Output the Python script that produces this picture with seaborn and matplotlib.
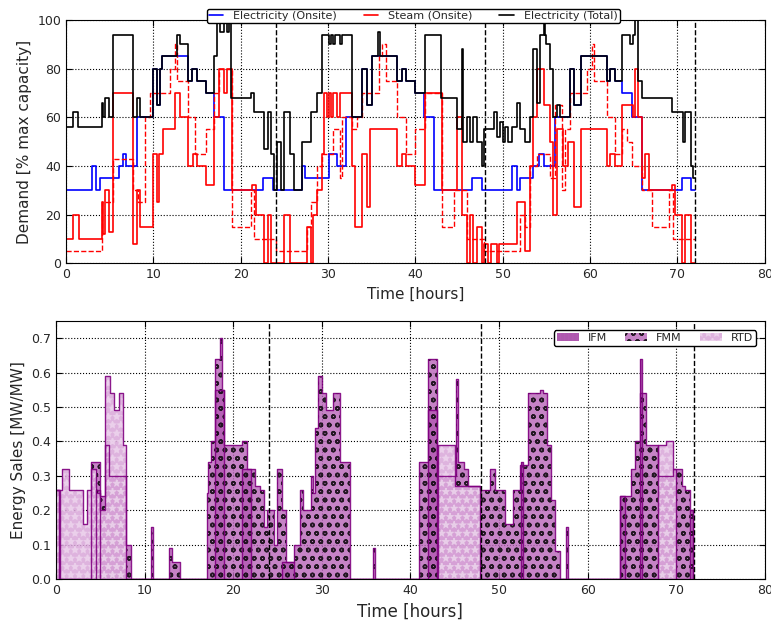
import numpy as np
import pandas as pd
import matplotlib
matplotlib.use("Agg")
import matplotlib.pyplot as plt
import seaborn as sns

# ---- top panel: step breakpoints (time [h], demand [% max capacity]) ----
elec_t = [0, 2.96, 3.46, 3.92, 6.08, 6.54, 6.92, 8.08, 10.0, 10.38, 10.77, 10.96, 13.96, 14.4, 15.0,
          16.04, 17.0, 18.1, 22.5, 23.65, 27.0, 27.4, 30.1, 31.0, 32.0, 33.9, 34.5, 35.0, 37.9, 38.5,
          38.9, 40.0, 41.0, 42.1, 46.5, 47.6, 51.1, 51.6, 52.0, 53.5, 54.1, 54.7, 56.0, 57.7, 58.1,
          58.9, 61.9, 62.3, 62.9, 63.6, 64.8, 65.9, 70.5, 71.5, 72]
elec_v = [30, 40, 30, 35, 40, 45, 40, 60, 80, 65, 80, 85, 75, 80, 75,
          70, 60, 30, 35, 30, 40, 35, 45, 40, 60, 80, 65, 85, 75, 80,
          75, 70, 60, 30, 35, 30, 40, 30, 35, 40, 45, 40, 60, 80, 65,
          85, 75, 80, 75, 70, 60, 30, 35, 30, 30]

steam_t = [0, 0.77, 1.54, 4.15, 4.23, 4.42, 4.92, 5.38, 7.62, 8.08, 8.46, 10.0, 10.38, 10.7, 11.15,
           12.5, 13.0, 13.96, 14.5, 15.0, 16.04, 17.0, 17.5, 18.1, 18.4, 19.04, 21.35, 21.7, 22.7,
           23.1, 23.5, 25.0, 25.6, 27.6, 28.0, 28.3, 28.7, 29.3, 29.5, 29.9, 30.1, 30.3, 30.6, 31.0,
           31.4, 32.7, 33.1, 33.9, 34.5, 34.8, 37.9, 38.5, 38.9, 40.0, 41.1, 43.05, 44.8, 45.3, 45.9,
           46.3, 46.6, 47.0, 47.6, 47.8, 48.3, 48.6, 49.35, 49.6, 51.6, 52.6, 53.1, 53.5, 53.9, 54.7,
           55.4, 55.8, 56.2, 56.95, 57.5, 58.1, 58.9, 61.9, 62.3, 62.9, 63.6, 64.96, 65.15, 65.5,
           65.9, 66.3, 66.7, 69.35, 69.7, 70.5, 70.9, 71.5, 72]
steam_v = [10, 20, 10, 25, 12, 30, 13, 70, 8, 30, 15, 45, 25, 45, 55,
           70, 60, 40, 45, 40, 32, 60, 80, 70, 80, 30, 32, 20, 0,
           20, 0, 20, 0, 15, 0, 20, 30, 45, 70, 60, 70, 60, 70, 60,
           70, 40, 15, 45, 23, 55, 40, 45, 40, 32, 70, 30, 60, 20, 0,
           20, 0, 15, 0, 8, 0, 8, 0, 8, 25, 5, 40, 60, 80, 65,
           50, 20, 55, 40, 50, 23, 55, 40, 45, 40, 65, 60, 80, 60,
           35, 45, 30, 32, 20, 0, 20, 0, 0]

steam2_t = [0, 4.15, 5.38, 7.62, 8.27, 9.04, 9.6, 11.9, 12.5, 12.7, 13.96, 14.8, 16.04, 17.0, 17.5,
            19.04, 21.15, 21.5, 24.0, 27.6, 28.0, 28.7, 29.3, 30.6, 31.4, 31.6, 32.7, 33.3, 33.9,
            35.8, 36.2, 36.6, 37.9, 38.9, 40.0, 41.1, 43.05, 44.4, 45.9, 47.8, 52.0, 52.6, 53.1,
            53.9, 55.4, 56.0, 56.8, 57.1, 57.7, 59.6, 60.2, 60.5, 61.9, 62.9, 63.6, 64.2, 64.8,
            65.9, 67.1, 69.0, 69.5, 72]
steam2_v = [5, 25, 43, 30, 25, 60, 70, 80, 90, 75, 60, 45, 55, 70, 80,
            15, 30, 10, 5, 15, 25, 40, 45, 55, 35, 60, 55, 60, 70,
            85, 90, 75, 60, 45, 55, 70, 15, 30, 10, 5, 20, 15, 40,
            45, 35, 65, 30, 55, 70, 80, 90, 75, 60, 45, 55, 50, 40,
            30, 15, 30, 10, 10]

total_t = [0, 0.77, 1.35, 4.15, 4.23, 4.42, 4.92, 5.38, 7.62, 8.08, 8.46, 10.0, 10.38, 10.77, 10.96,
           12.7, 13.0, 13.96, 14.4, 15.0, 16.04, 17.0, 17.3, 17.6, 18.1, 18.4, 18.65, 18.9, 21.15,
           21.5, 22.7, 23.1, 23.5, 23.85, 24.15, 24.6, 25.0, 25.6, 26.1, 27.0, 28.0, 28.7, 29.3,
           30.1, 30.3, 30.6, 30.8, 31.4, 31.6, 32.7, 33.9, 34.5, 35.0, 35.7, 36.0, 37.9, 38.5,
           38.9, 40.0, 41.1, 42.9, 44.8, 45.3, 45.5, 45.9, 46.3, 46.6, 47.0, 47.6, 47.8, 49.0,
           49.35, 49.7, 50.0, 50.3, 50.6, 51.0, 51.6, 52.0, 52.6, 53.1, 53.5, 53.9, 54.3, 54.7,
           54.85, 55.0, 55.4, 55.8, 56.2, 56.6, 57.7, 58.1, 58.9, 61.9, 62.3, 62.9, 63.6, 64.6,
           64.96, 65.15, 65.5, 65.9, 69.35, 70.6, 70.9, 71.5, 71.8, 72]
total_v = [56, 62, 56, 66, 60, 68, 60, 94, 60, 68, 60, 80, 65, 80, 85,
           94, 90, 75, 80, 75, 70, 85, 100, 95, 100, 95, 100, 68, 70,
           62, 47, 62, 45, 30, 50, 30, 62, 45, 30, 50, 62, 70, 94,
           90, 94, 90, 94, 90, 94, 60, 80, 65, 85, 95, 85, 75, 80,
           75, 70, 94, 68, 55, 88, 50, 60, 50, 60, 50, 40, 55, 62,
           52, 58, 50, 56, 50, 56, 66, 55, 50, 60, 88, 66, 94, 100,
           94, 90, 80, 60, 65, 60, 80, 65, 85, 75, 80, 75, 94, 90,
           94, 100, 75, 68, 62, 50, 62, 40, 35, 35]

# ---- bottom panel: step breakpoints (time [h], sales [MW/MW]) ----
ifm_t = [0, 0.3, 4.5, 5.0, 18.0, 19.0, 21.0, 22.0, 25.5, 26.9, 42.0, 43.0, 52.5, 52.7,
         63.7, 64.2, 65.9, 66.1, 71.6, 71.9]
ifm_v = [0.26, 0, 0.26, 0, 0.55, 0, 0.32, 0, 0.05, 0, 0.49, 0, 0.34, 0,
         0.24, 0, 0.64, 0, 0.20, 0]

fmm_t = [0, 0.5, 4.0, 5.0, 5.5, 6.0, 7.9, 8.5, 10.7, 11.0, 12.8, 13.1, 14.0, 17.0, 17.2, 17.45,
         18.0, 18.46, 18.7, 19.0, 21.0, 21.6, 22.5, 23.0, 23.45, 23.8, 24.6, 24.9, 25.5, 26.0,
         26.9, 27.5, 27.9, 28.8, 29.0, 29.25, 29.55, 30.0, 30.5, 31.25, 32.0, 33.2, 35.8, 36.0,
         41.0, 42.0, 43.0, 45.1, 45.4, 46.0, 46.5, 47.85, 49.0, 49.5, 50.7, 51.6, 52.4, 53.3,
         54.6, 55.0, 55.4, 55.9, 56.3, 56.9, 57.6, 57.8, 63.7, 64.9, 65.4, 65.9, 66.6, 67.9,
         69.6, 70.6, 71.0, 71.5, 71.9]
fmm_v = [0.26, 0, 0.34, 0.24, 0.39, 0.30, 0.10, 0, 0.15, 0, 0.09, 0.05, 0, 0.25, 0.34, 0.40,
         0.64, 0.70, 0.55, 0.39, 0.40, 0.32, 0.27, 0.26, 0.15, 0.20, 0.10, 0.32, 0.20, 0.05,
         0.10, 0.26, 0.20, 0.30, 0.25, 0.44, 0.59, 0.54, 0.49, 0.54, 0.34, 0, 0.09, 0,
         0.34, 0.64, 0.30, 0.58, 0.34, 0.32, 0.27, 0.26, 0.32, 0.26, 0.16, 0.26, 0.33, 0.54,
         0.55, 0.54, 0.39, 0.23, 0.08, 0, 0.15, 0, 0.24, 0.32, 0.40, 0.54, 0.39, 0.30,
         0.32, 0.27, 0.26, 0.20, 0]

rtd_t = [0, 0.7, 1.5, 3.0, 3.5, 4.0, 4.5, 5.0, 5.5, 6.1, 6.6, 7.1, 7.6, 7.9, 43.1, 45.0,
         47.8, 67.9, 68.9, 69.6, 70.0]
rtd_v = [0.26, 0.32, 0.26, 0.16, 0.26, 0.32, 0.25, 0.20, 0.59, 0.54, 0.49, 0.54, 0.39, 0, 0.39, 0.27,
         0, 0.39, 0.40, 0.32, 0]

day_marks = [24, 48, 72]

sns.set_style("white", {"axes.grid": True, "grid.linestyle": ":", "grid.color": "k",
                        "axes.edgecolor": "k", "xtick.direction": "in", "ytick.direction": "in"})
plt.rcParams["font.family"] = ["DejaVu Sans"]
plt.rcParams["xtick.top"] = True
plt.rcParams["ytick.right"] = True
plt.rcParams["xtick.bottom"] = True
plt.rcParams["ytick.left"] = True
plt.rcParams["grid.linewidth"] = 0.8

fig = plt.figure(figsize=(7.71, 6.25), dpi=100)
ax1 = fig.add_axes([0.0856, 0.579, 0.9064, 0.389])
ax2 = fig.add_axes([0.0726, 0.0736, 0.9194, 0.4128])

# top panel
sns.lineplot(x=elec_t, y=elec_v, ax=ax1, color="#0000ff", lw=1.2, drawstyle="steps-post",
             label="Electricity (Onsite)")
sns.lineplot(x=steam_t, y=steam_v, ax=ax1, color="#ff0000", lw=1.2, drawstyle="steps-post",
             label="Steam (Onsite)")
sns.lineplot(x=steam2_t, y=steam2_v, ax=ax1, color="#ff0000", lw=1.0, drawstyle="steps-post",
             linestyle="--")
sns.lineplot(x=total_t, y=total_v, ax=ax1, color="k", lw=1.2, drawstyle="steps-post",
             label="Electricity (Total)")
for d in day_marks:
    ax1.axvline(d, color="k", ls="--", lw=1)
ax1.set_xlim(0, 80)
ax1.set_ylim(0, 100)
ax1.set_xlabel("Time [hours]", fontsize=11)
ax1.set_ylabel("Demand [% max capacity]", fontsize=11)
ax1.tick_params(labelsize=9, length=4, color="k", width=0.8)
ax1.legend(loc="lower center", bbox_to_anchor=(0.497, 0.965), ncol=3, fontsize=8,
           frameon=True, edgecolor="k", fancybox=True, borderpad=0.2, handlelength=1.3,
           columnspacing=2.4, handletextpad=0.9, framealpha=1)

# bottom panel
plt.rcParams["hatch.linewidth"] = 1.1
series = [
    ("IFM", ifm_t, ifm_v, "#a03ca0", "||||", "#b45ab4", 0.85),
    ("FMM", fmm_t, fmm_v, "#b864b8", "oo", "k", 0.8),
    ("RTD", rtd_t, rtd_v, "#d9a6d9", "**", "#ecd2ec", 0.85),
]
handles = []
for name, t, v, fc, hatch, hc, a in series:
    df = pd.DataFrame({"t": t, "v": v})
    poly = ax2.fill_between(df["t"], 0, df["v"], step="post", facecolor=fc, alpha=a,
                            hatch=hatch, edgecolor=hc, linewidth=0)
    sns.lineplot(data=df, x="t", y="v", ax=ax2, color="#800080", lw=1.0,
                 drawstyle="steps-post", alpha=0.9)
    handles.append(poly)
for d in day_marks:
    ax2.axvline(d, color="k", ls="--", lw=1)
ax2.set_xlim(0, 80)
ax2.set_ylim(0, 0.75)
ax2.set_yticks(np.arange(0, 0.75, 0.1))
ax2.set_xlabel("Time [hours]", fontsize=12)
ax2.set_ylabel("Energy Sales [MW/MW]", fontsize=11)
ax2.tick_params(labelsize=9, length=4, color="k", width=0.8)
ax2.legend(handles, ["IFM", "FMM", "RTD"], loc="upper right", ncol=3, fontsize=8,
           frameon=True, edgecolor="k", fancybox=True, borderpad=0.25, columnspacing=1.6,
           handlelength=2.0, bbox_to_anchor=(0.995, 0.985), framealpha=1)

fig.savefig("out.png", dpi=100)
